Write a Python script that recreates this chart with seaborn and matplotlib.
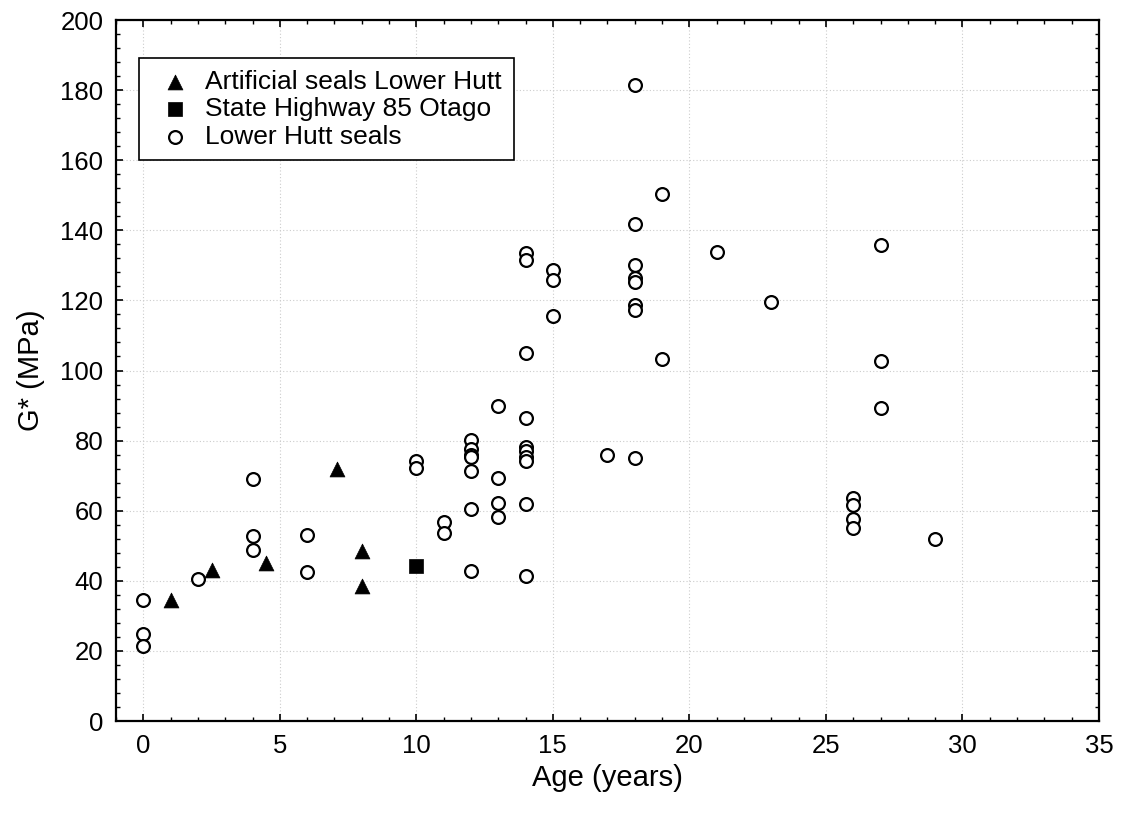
import numpy as np
import pandas as pd
import matplotlib
matplotlib.use("Agg")
import matplotlib.pyplot as plt
import seaborn as sns
from matplotlib.ticker import MultipleLocator

# ---- data ----
art_age = [1, 2.5, 4.5, 7.1, 8, 8]
art_g = [34.5, 43, 45, 72, 48.5, 38.5]

sh85_age = [10]
sh85_g = [44.3]

lh_age = [0, 0, 0,
          2,
          4, 4, 4,
          6, 6,
          10, 10,
          11, 11,
          12, 12, 12, 12, 12, 12, 12,
          13, 13, 13, 13,
          14, 14, 14, 14, 14, 14, 14, 14, 14, 14,
          15, 15, 15,
          17,
          18, 18, 18, 18, 18, 18, 18, 18,
          19, 19,
          21,
          23,
          26, 26, 26, 26,
          27, 27, 27,
          29]
lh_g = [34.5, 24.8, 21.4,
        40.5,
        69.1, 52.9, 48.7,
        53.0, 42.6,
        74.3, 72.3,
        56.9, 53.7,
        80.2, 77.5, 76.0, 75.2, 71.2, 60.4, 42.8,
        89.9, 69.4, 62.3, 58.3,
        133.4, 131.5, 105.1, 86.5, 78.3, 76.9, 75.4, 74.3, 62.0, 41.4,
        128.7, 125.8, 115.6,
        75.8,
        181.6, 141.7, 130.1, 126.3, 125.2, 118.7, 117.3, 75.1,
        150.5, 103.2,
        133.7,
        119.5,
        63.5, 61.6, 57.5, 55.0,
        135.7, 102.6, 89.4,
        52.0]

labels = ["Artificial seals Lower Hutt", "State Highway 85 Otago", "Lower Hutt seals"]
x_label = "Age (years)"
y_label = "G* (MPa)"

# ---- style ----
sns.set_style("ticks")
plt.rcParams["font.family"] = ["Liberation Sans", "DejaVu Sans"]
plt.rcParams["text.color"] = "black"
plt.rcParams["axes.labelcolor"] = "black"
plt.rcParams["xtick.color"] = "black"
plt.rcParams["ytick.color"] = "black"

fig = plt.figure(figsize=(11.26, 8.21), dpi=100)
ax = fig.add_axes([0.103, 0.1218, 0.873, 0.8538])

sns.scatterplot(x=art_age, y=art_g, ax=ax, marker="^", s=115, color="black",
                edgecolor="black", linewidth=0.5, label=labels[0], zorder=3)
sns.scatterplot(x=sh85_age, y=sh85_g, ax=ax, marker="s", s=100, color="black",
                edgecolor="black", linewidth=0.5, label=labels[1], zorder=3)
sns.scatterplot(x=lh_age, y=lh_g, ax=ax, marker="o", s=85, facecolor="white",
                edgecolor="black", linewidth=1.6, label=labels[2], zorder=4)

ax.set_xlim(-1, 35)
ax.set_ylim(0, 200)
ax.xaxis.set_major_locator(MultipleLocator(5))
ax.xaxis.set_minor_locator(MultipleLocator(1))
ax.yaxis.set_major_locator(MultipleLocator(20))
ax.yaxis.set_minor_locator(MultipleLocator(4))

ax.grid(True, which="major", linestyle=(0, (1, 2)), color="#cccccc", linewidth=0.8, zorder=0)
ax.set_axisbelow(True)

for sp in ax.spines.values():
    sp.set_visible(True)
    sp.set_linewidth(1.6)
    sp.set_color("black")

ax.tick_params(which="both", direction="in", top=True, right=True, color="black")
ax.tick_params(which="major", length=5, width=1.2, labelsize=18.5, pad=9)
ax.tick_params(which="minor", length=3, width=1.0)

ax.set_xlabel(x_label, fontsize=21, labelpad=5)
ax.set_ylabel(y_label, fontsize=21, labelpad=11)

leg = ax.legend(loc="upper left", bbox_to_anchor=(0.0234, 0.946), borderaxespad=0,
                fontsize=19, frameon=True, fancybox=False, edgecolor="black",
                framealpha=1, handlelength=1.8, handletextpad=0.27,
                labelspacing=0.13, borderpad=0.45)
leg.get_frame().set_linewidth(1.2)

fig.savefig("out.png", dpi=100, facecolor="white")
